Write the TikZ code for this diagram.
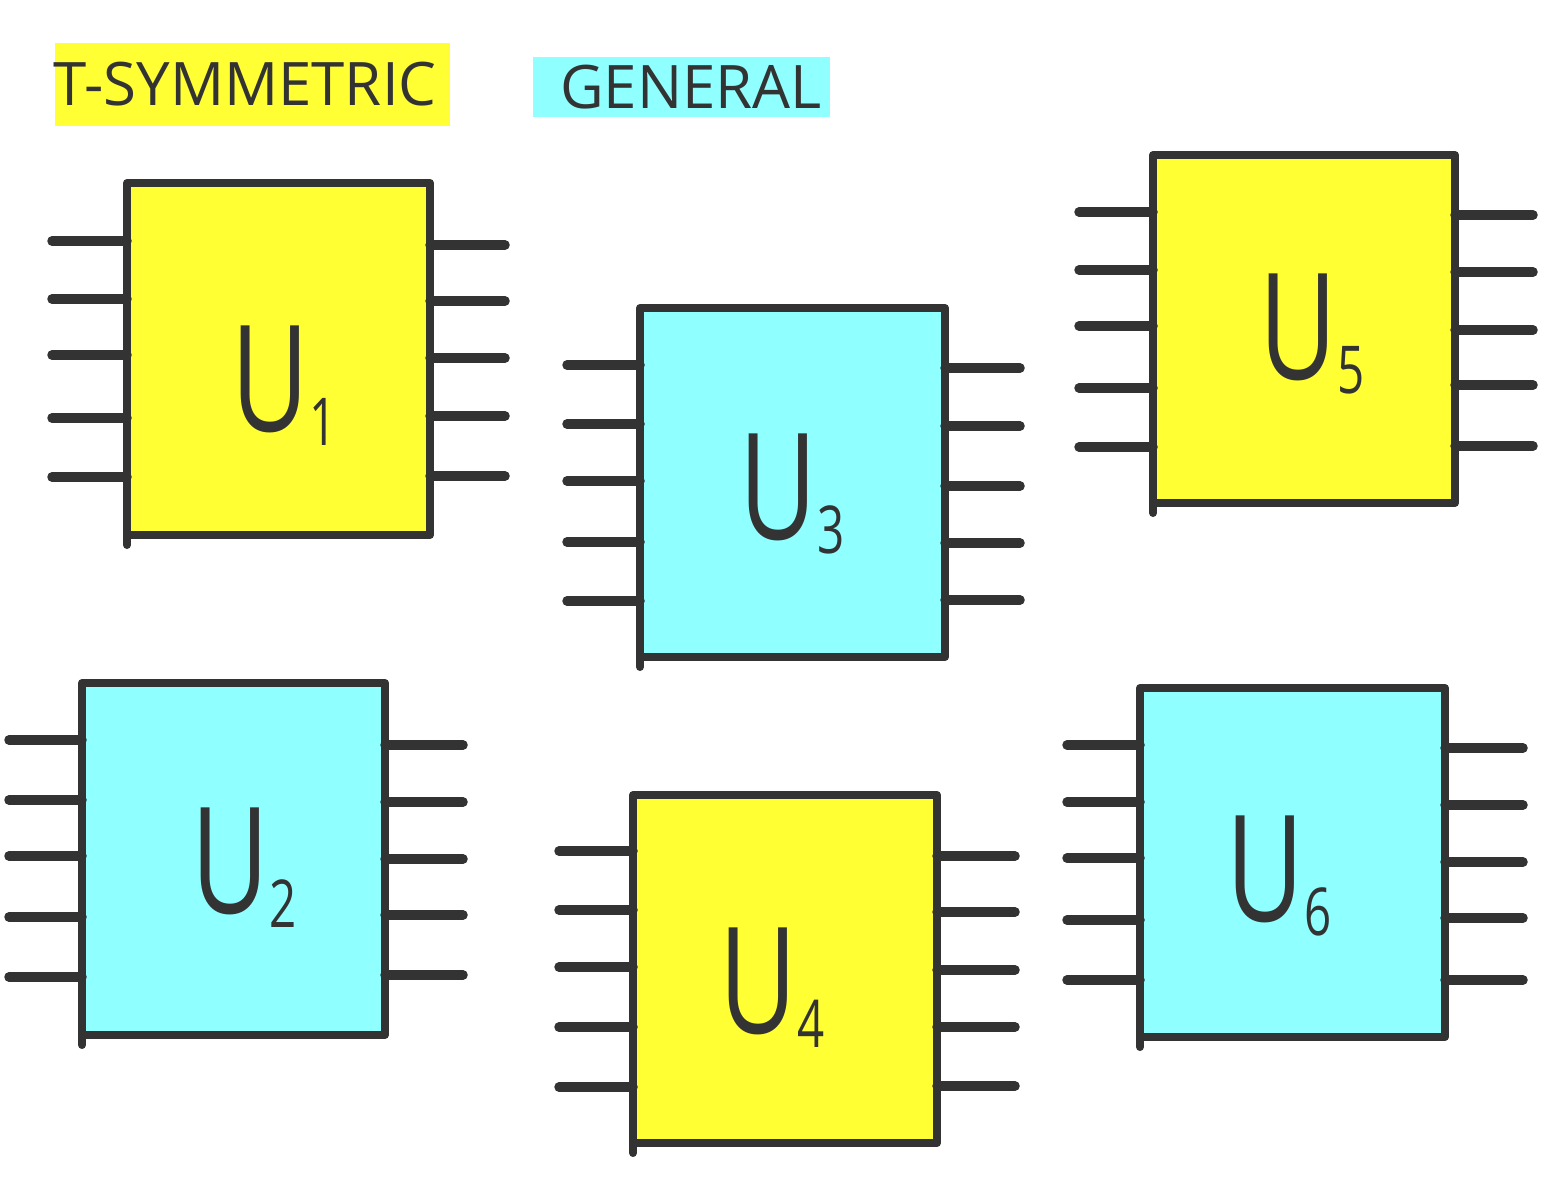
\documentclass[tikz,border=0pt]{standalone}
\usepackage{fontspec}
\setmainfont{Open Sans}
\definecolor{ty}{HTML}{FFFF33}
\definecolor{gc}{HTML}{8FFFFF}
\definecolor{ink}{HTML}{333333}
\tikzset{
  pinline/.style={draw=ink, line width=9.5pt, line cap=round},
  edgeline/.style={draw=ink, line width=8pt, line cap=round},
  chipbox/.style={draw=ink, line width=8pt, line join=round, inner sep=0pt, outer sep=0pt, anchor=north west},
  chiplab/.style={text=ink, font=\fontsize{148}{148}\selectfont, xscale=0.72, inner sep=0pt},
  titlebox/.style={inner sep=0pt, text=ink, font=\fontsize{60}{60}\selectfont},
}
\newcommand\sublab[1]{\raisebox{-14pt}{\fontsize{66}{66}\selectfont #1}}
\begin{document}
\begin{tikzpicture}[x=1pt,y=-1pt]
\useasboundingbox (0,0) rectangle (1565,1187);

\node[titlebox, fill=ty, minimum width=395pt, minimum height=83pt] (tsym) at (252,84) {\hspace*{-14pt}T-SYMMETRIC};
\node[titlebox, fill=gc, minimum width=297pt, minimum height=60pt] (gen) at (681,87) {\hspace*{20pt}GENERAL};

% U1
\node[chipbox, fill=ty, minimum width=303pt, minimum height=352pt] (u1) at (127,183) {};
\draw[edgeline] (u1.south west) -- ++(0,10);
\foreach \yy in {241,299,355,418,477} \draw[pinline] (52,\yy) -- (u1.west |- 0,\yy);
\foreach \yy in {245,301,358,416,476} \draw[pinline] (u1.east |- 0,\yy) -- (505,\yy);
\node[chiplab] (l1) at (284,386) {U\sublab{1}};

% U3
\node[chipbox, fill=gc, minimum width=305pt, minimum height=349pt] (u3) at (640,308) {};
\draw[edgeline] (u3.south west) -- ++(0,10);
\foreach \yy in {365,424,481,542,601} \draw[pinline] (567,\yy) -- (u3.west |- 0,\yy);
\foreach \yy in {368,426,486,543,600} \draw[pinline] (u3.east |- 0,\yy) -- (1020,\yy);
\node[chiplab] (l3) at (792,494) {U\sublab{3}};

% U5
\node[chipbox, fill=ty, minimum width=302pt, minimum height=348pt] (u5) at (1153,155) {};
\draw[edgeline] (u5.south west) -- ++(0,10);
\foreach \yy in {212,270,326,388,447} \draw[pinline] (1079,\yy) -- (u5.west |- 0,\yy);
\foreach \yy in {215,272,330,385,446} \draw[pinline] (u5.east |- 0,\yy) -- (1533,\yy);
\node[chiplab] (l5) at (1312,334) {U\sublab{5}};

% U2
\node[chipbox, fill=gc, minimum width=303pt, minimum height=352pt] (u2) at (82,683) {};
\draw[edgeline] (u2.south west) -- ++(0,10);
\foreach \yy in {740,800,856,917,977} \draw[pinline] (9,\yy) -- (u2.west |- 0,\yy);
\foreach \yy in {745,802,859,915,975} \draw[pinline] (u2.east |- 0,\yy) -- (463,\yy);
\node[chiplab] (l2) at (244,868) {U\sublab{2}};

% U4
\node[chipbox, fill=ty, minimum width=304pt, minimum height=348pt] (u4) at (633,795) {};
\draw[edgeline] (u4.south west) -- ++(0,10);
\foreach \yy in {851,910,967,1027,1087} \draw[pinline] (559,\yy) -- (u4.west |- 0,\yy);
\foreach \yy in {856,912,970,1027,1086} \draw[pinline] (u4.east |- 0,\yy) -- (1015,\yy);
\node[chiplab] (l4) at (772,988) {U\sublab{4}};

% U6
\node[chipbox, fill=gc, minimum width=305pt, minimum height=349pt] (u6) at (1140,688) {};
\draw[edgeline] (u6.south west) -- ++(0,10);
\foreach \yy in {745,802,858,920,980} \draw[pinline] (1067,\yy) -- (u6.west |- 0,\yy);
\foreach \yy in {748,805,862,918,980} \draw[pinline] (u6.east |- 0,\yy) -- (1523,\yy);
\node[chiplab] (l6) at (1279,876) {U\sublab{6}};
\end{tikzpicture}
\end{document}
